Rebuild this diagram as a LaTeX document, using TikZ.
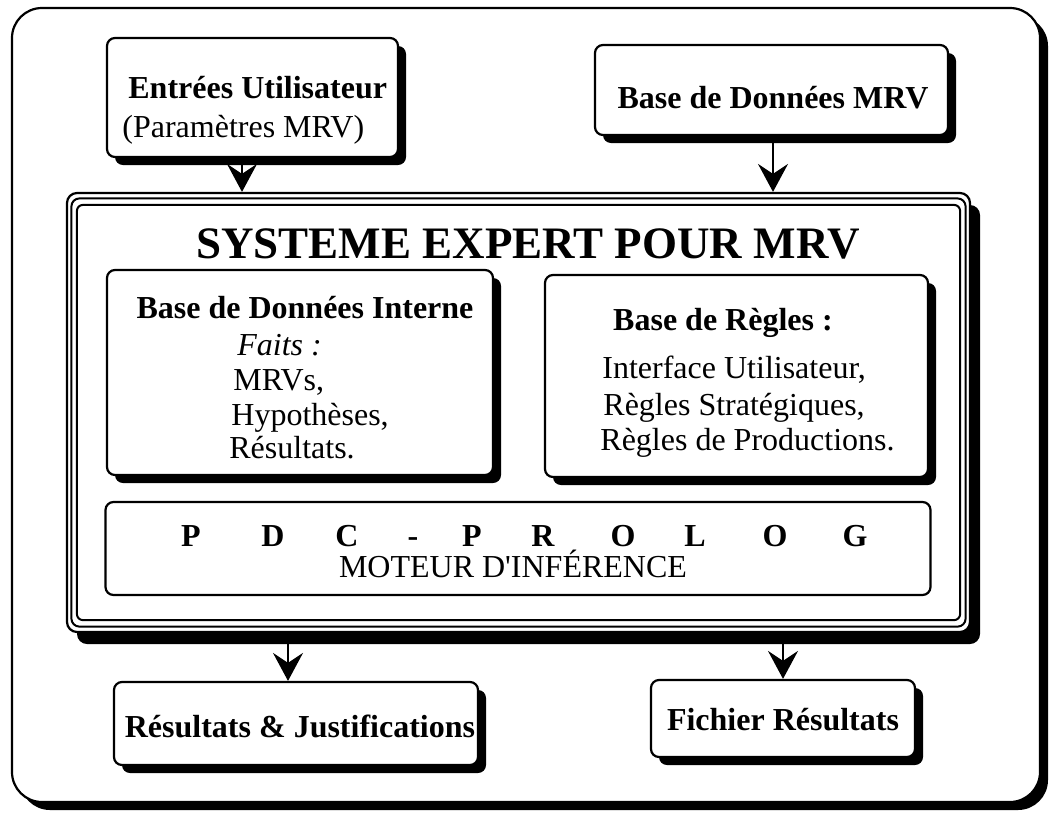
\documentclass[tikz,border=0pt]{standalone}
\usepackage{fontspec}
\setmainfont{Liberation Serif}
\usetikzlibrary{shadows,arrows.meta}

\begin{document}
\begin{tikzpicture}[x=0.5pt,y=-0.5pt,
  box/.style={draw, line width=1.1pt, fill=white, rounded corners=4pt, inner sep=0pt},
  shadowed/.style={drop shadow={shadow xshift=4pt, shadow yshift=-4pt, fill=black, opacity=1}},
  lbl/.style={inner sep=0pt, font=\fontsize{16}{19}\selectfont},
  blbl/.style={inner sep=0pt, font=\fontsize{16}{19}\selectfont\bfseries},
  arr/.style={line width=1.1pt, -{Stealth[length=14pt,width=15pt,inset=5pt]}},
]
\useasboundingbox (0,0) rectangle (1049,815);

% outer frame
\node[box, rounded corners=15pt, shadowed, minimum width=514pt, minimum height=397pt] (frame) at (526,405) {};

% input boxes
\node[box, shadowed, minimum width=145.5pt, minimum height=59.5pt] (inA) at (252.5,97.5) {};
\node[box, shadowed, minimum width=176.5pt, minimum height=45pt] (inB) at (771.5,90) {};

% expert system block with triple border
\node[box, rounded corners=5pt, drop shadow={shadow xshift=5pt, shadow yshift=-6pt, fill=black, opacity=1},
      minimum width=451.5pt, minimum height=219.5pt] (sys) at (518.5,412.5) {};
\draw[line width=1pt, rounded corners=4pt] ([shift={(5.5,6.5)}]sys.north west) rectangle ([shift={(-5.5,-6.5)}]sys.south east);
\draw[line width=1pt, rounded corners=3pt] ([shift={(11,13)}]sys.north west) rectangle ([shift={(-11,-13)}]sys.south east);

% inner boxes
\node[box, shadowed, minimum width=193pt, minimum height=102.5pt] (dbi) at (300,372.5) {};
\node[box, shadowed, minimum width=191.5pt, minimum height=101pt] (rules) at (736.5,376) {};
\node[box, minimum width=412.5pt, minimum height=46.5pt] (pdc) at (518,548.5) {};

% output boxes
\node[box, shadowed, minimum width=182pt, minimum height=41.5pt] (resj) at (296,723.5) {};
\node[box, shadowed, minimum width=132pt, minimum height=38.5pt] (fich) at (783,718.5) {};

% texts
\node[blbl, anchor=base west] (tA1) at (128,98) {Entrées Utilisateur};
\node[lbl, anchor=base west] (tA2) at (122,137) {(Paramètres MRV)};
\node[blbl, anchor=base] (tB) at (773,108) {Base de Données MRV};

\node[inner sep=0pt, anchor=base, font=\fontsize{22.5}{26}\selectfont\bfseries] (title) at (528,258) {SYSTEME EXPERT POUR MRV};

\node[blbl, anchor=base] (tD0) at (305,318) {Base de Données Interne};
\node[lbl, anchor=base west] (tD1) at (237,355) {\textit{Faits :}};
\node[lbl, anchor=base west] (tD2) at (233,390) {MRVs,};
\node[lbl, anchor=base west] (tD3) at (231,425) {Hypothèses,};
\node[lbl, anchor=base west] (tD4) at (229,458) {Résultats.};

\node[blbl, anchor=base] (tR0) at (723,330) {Base de Règles :};
\node[lbl, anchor=base west] (tR1) at (602,378) {Interface Utilisateur,};
\node[lbl, anchor=base west] (tR2) at (603,415) {Règles Stratégiques,};
\node[lbl, anchor=base west] (tR3) at (600,450) {Règles de Productions.};

\foreach \x/\c [count=\i] in {191/P,273/D,347/C,413/-,472/P,543/R,623/O,695/L,775/O,855/G}
  \node[blbl, anchor=base] (pl\i) at (\x,546) {\c};
\node[lbl, anchor=base] (tP) at (513,577) {MOTEUR D\textquotesingle INFÉRENCE};

\node[blbl, anchor=base] (tJ) at (300,737) {Résultats \& Justifications};
\node[blbl, anchor=base] (tF) at (783,730) {Fichier Résultats};

% connectors
\draw[arr] (inA.south -| 242,0) -- (sys.north -| 242,0);
\draw[arr] (inB.south -| 773,0) -- (sys.north -| 773,0);
\draw[arr] (sys.south -| 288,0) -- (resj.north -| 288,0);
\draw[arr] (sys.south -| fich.north) -- (fich.north);
\end{tikzpicture}
\end{document}
